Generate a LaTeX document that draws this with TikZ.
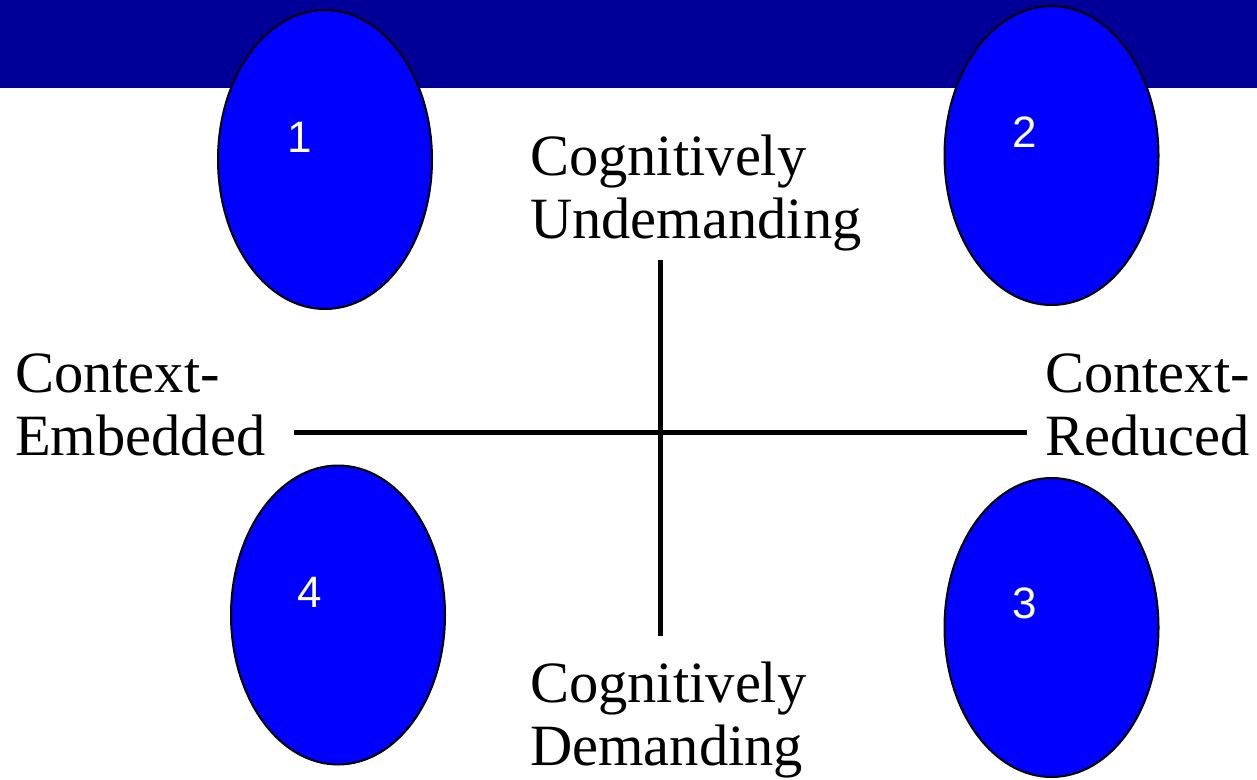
\documentclass[tikz,border=0pt]{standalone}
\usepackage{fontspec}
\setmainfont{Liberation Serif}
\newfontfamily\numfont{Liberation Sans}
\usetikzlibrary{shapes.geometric}
\definecolor{bandblue}{RGB}{0,0,153}
\definecolor{quadblue}{RGB}{0,0,255}
\begin{document}
\begin{tikzpicture}[x=1pt,y=-1pt,
    quad/.style={ellipse,draw=black,line width=2pt,fill=quadblue,
      minimum width=214pt,minimum height=299pt,inner sep=0pt},
    num/.style={anchor=base,inner sep=0pt,text=white,
      font=\numfont\fontsize{44}{44}\selectfont},
    lbl/.style={anchor=base west,inner sep=0pt,align=left,
      font=\fontsize{58.5}{63}\selectfont},
    axis/.style={line width=4.5pt}]
  \useasboundingbox (0,0) rectangle (1257,779);
  \fill[bandblue] (0,0) rectangle (1257,88);
  \draw
    (325,159.5) node[quad] (q1){}
    (1051.5,155.5) node[quad] (q2){}
    (1051.5,627.5) node[quad] (q3){}
    (338,615) node[quad] (q4){};
  \draw
    (300,152) node[num] (n1){1}
    (1024.5,147) node[num] (n2){2}
    (1025,618) node[num] (n3){3}
    (309.5,607) node[num] (n4){4};
  % the base of a two-line label is its second line
  \draw
    (530,238) node[lbl] (undem){Cognitively\\Undemanding}
    (530,765) node[lbl] (dem){Cognitively\\Demanding}
    (15,455) node[lbl] (embed){Context-\\Embedded}
    (1045,455) node[lbl] (reduc){Context-\\Reduced};
  \coordinate (top) at (660.5,260);
  \coordinate (bot) at (660.5,636);
  \coordinate (west) at (294,432.5);
  \coordinate (east) at (1027,432.5);
  \begin{scope}[axis]
    \draw (top) to (bot);
    \draw (west) to (east);
  \end{scope}
\end{tikzpicture}
\end{document}
